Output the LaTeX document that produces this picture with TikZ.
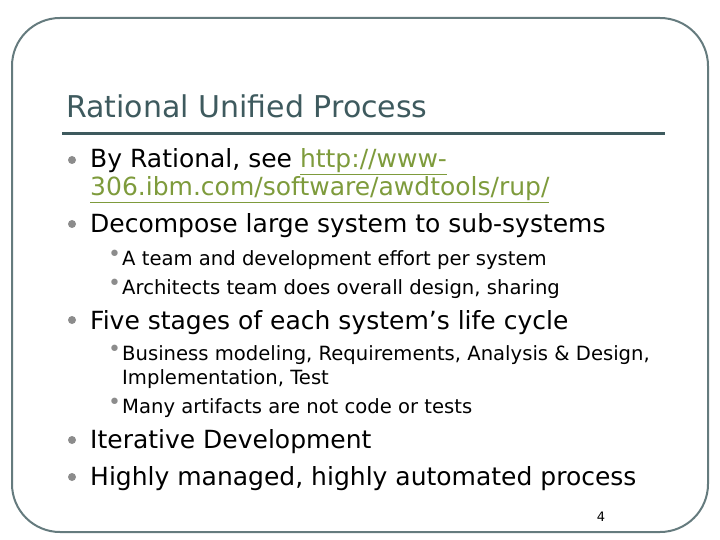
\documentclass[tikz,border=0pt]{standalone}
\usepackage{fontspec}
\setmainfont{DejaVu Sans}
\definecolor{linkc}{HTML}{7E9B3C}
\definecolor{rulec}{HTML}{3E5A5E}
\definecolor{dotc}{HTML}{8C8C8C}
\begin{document}
\begin{tikzpicture}[x=1pt,y=-1pt,
  main/.style={anchor=base west,inner sep=0,font=\fontsize{25}{29}\selectfont},
  sub/.style={anchor=base west,inner sep=0,font=\fontsize{19.6}{24}\selectfont},
  bul/.style={circle,fill=dotc,inner sep=0,minimum size=8pt},
  sbul/.style={anchor=base west,inner sep=0,font=\fontsize{22}{24}\selectfont,text=dotc}]
\useasboundingbox (0,0) rectangle (720,540);
\draw[line width=2pt,rounded corners=48pt,draw=rulec!80] (12,18) rectangle (708,532);
\node[anchor=base west,inner sep=0,font=\fontsize{30}{34}\selectfont,text=rulec] (title) at (66,118) {Rational Unified Process};
\draw[line width=3pt,rulec] (62,134) -- (665,134);
\foreach \n/\y in {b1/160,b2/224,b3/320,b4/440,b5/477}{\node[bul] (\n) at (72,\y) {};}
\node[main] (t1) at (90,168) {By Rational, see \textcolor{linkc}{\underline{http://www-}}};
\node[main] (t1b) at (90,196) {\textcolor{linkc}{\underline{306.ibm.com/software/awdtools/rup/}}};
\node[main] (t2) at (90,233) {Decompose large system to sub-systems};
\node[sub] (s1) at (122,265) {A team and development effort per system};
\node[sub] (s2) at (122,294) {Architects team does overall design, sharing};
\node[main] (t3) at (90,329) {Five stages of each system’s life cycle};
\node[sub] (s3) at (122,360) {Business modeling, Requirements, Analysis \& Design,};
\node[sub] (s3b) at (122,384) {Implementation, Test};
\node[sub] (s4) at (122,413) {Many artifacts are not code or tests};
\node[main] (t4) at (90,448) {Iterative Development};
\node[main] (t5) at (90,485) {Highly managed, highly automated process};
\foreach \y in {265,294,360,413}{\node[sbul] at (108,\y-4) {•};}
\node[anchor=base,inner sep=0,font=\fontsize{13}{15}\selectfont] (pg) at (601,521) {4};
\end{tikzpicture}
\end{document}
